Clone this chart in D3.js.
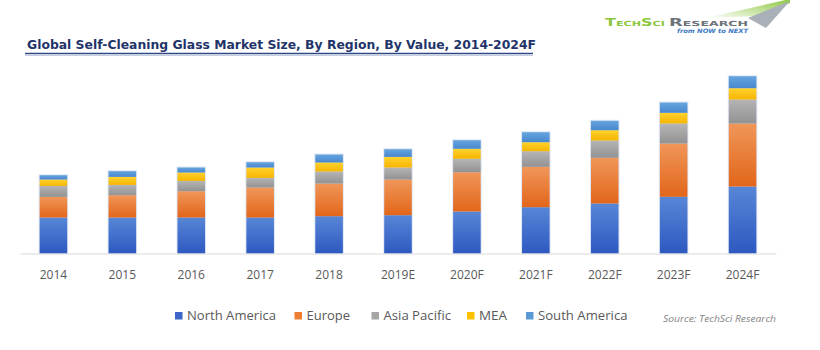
<!DOCTYPE html>
<html>
<head>
<meta charset="utf-8">
<script src="https://cdn.jsdelivr.net/npm/d3@7/dist/d3.min.js"></script>
<style>
  html, body { margin: 0; padding: 0; background: #ffffff; }
  svg { display: block; }
</style>
</head>
<body>
<svg id="chart" width="820" height="350"></svg>
<script>
// ---------- DATA ----------
const categories = ["2014", "2015", "2016", "2017", "2018", "2019E", "2020F", "2021F", "2022F", "2023F", "2024F"];
const seriesNames = ["North America", "Europe", "Asia Pacific", "MEA", "South America"];
const northAmerica = [36, 36, 36, 36, 37.3, 38.3, 42, 46.3, 50, 56.7, 67];
const europe       = [20.6, 22.3, 26.3, 30, 32.7, 35.7, 39.3, 40.4, 45.7, 53.3, 63];
const asiaPacific  = [11, 10.3, 10.3, 9.6, 12, 12, 13.4, 15.6, 17.3, 20, 24];
const mea          = [6.4, 8, 8.4, 10.4, 9, 10.6, 10, 9, 10.3, 10.7, 11.3];
const southAmerica = [4.3, 5.7, 5, 5.3, 8, 7.7, 8.6, 10, 9.4, 10.3, 12];
const titleText = "Global Self-Cleaning Glass Market Size, By Region, By Value, 2014-2024F";
const sourceText = "Source: TechSci Research";

// ---------- BUILD TABLE ----------
const valuesBySeries = [northAmerica, europe, asiaPacific, mea, southAmerica];
const keys = seriesNames;
const table = categories.map((c, i) => {
  const row = { category: c };
  keys.forEach((k, j) => row[k] = valuesBySeries[j][i]);
  return row;
});

// ---------- STYLE ----------
const gradStops = {
  "North America": ["#5886d6", "#2d59c1"],
  "Europe":        ["#f09659", "#e2661a"],
  "Asia Pacific":  ["#b5b5b5", "#929292"],
  "MEA":           ["#ffd22e", "#f7b500"],
  "South America": ["#67a5de", "#4787ce"]
};
const legendColors = {
  "North America": "#3b66c8",
  "Europe":        "#ed7d31",
  "Asia Pacific":  "#a5a5a5",
  "MEA":           "#ffc000",
  "South America": "#5b9bd5"
};

const svg = d3.select("#chart");
const defs = svg.append("defs");
keys.forEach((k, i) => {
  const g = defs.append("linearGradient")
    .attr("id", "grad" + i)
    .attr("x1", 0).attr("y1", 0).attr("x2", 0).attr("y2", 1);
  g.append("stop").attr("offset", "0%").attr("stop-color", gradStops[k][0]);
  g.append("stop").attr("offset", "100%").attr("stop-color", gradStops[k][1]);
});
const logoGrad = defs.append("linearGradient").attr("id", "logoGreen")
  .attr("x1", 0).attr("y1", 1).attr("x2", 1).attr("y2", 0);
logoGrad.append("stop").attr("offset", "0%").attr("stop-color", "#ffffff");
logoGrad.append("stop").attr("offset", "100%").attr("stop-color", "#8cc63e");

// ---------- SCALES ----------
const x = d3.scaleBand()
  .domain(categories)
  .range([20, 776])
  .paddingInner(0.6)
  .paddingOuter(0.285);

const y = d3.scaleLinear()
  .domain([0, 200])
  .range([253.5, 53.5]);

const stack = d3.stack().keys(keys);
const stacked = stack(table);

// light halo behind bars
svg.append("g")
  .selectAll("rect")
  .data(table)
  .join("rect")
  .attr("x", d => x(d.category) - 1)
  .attr("width", x.bandwidth() + 2)
  .attr("y", d => y(d3.sum(keys, k => d[k])) - 1)
  .attr("height", d => y(0) - y(d3.sum(keys, k => d[k])) + 1)
  .attr("fill", "#dfe7f5");

// bars
svg.append("g")
  .selectAll("g")
  .data(stacked)
  .join("g")
  .attr("fill", (s, i) => "url(#grad" + i + ")")
  .selectAll("rect")
  .data(s => s)
  .join("rect")
  .attr("x", d => x(d.data.category))
  .attr("width", x.bandwidth())
  .attr("y", d => y(d[1]))
  .attr("height", d => y(d[0]) - y(d[1]));

// axis
const axis = svg.append("g")
  .attr("transform", `translate(0,${y(0)})`)
  .call(d3.axisBottom(x).tickSize(0).tickSizeOuter(0).tickPadding(16.5));
axis.select(".domain").attr("stroke", "#d9d9d9").attr("stroke-width", 1);
axis.selectAll("text")
  .attr("fill", "#595959")
  .style("font-family", "'Open Sans', 'Noto Sans', sans-serif")
  .style("font-size", "12px");

// ---------- TITLE ----------
svg.append("text")
  .attr("x", 27).attr("y", 48.5)
  .attr("textLength", 509)
  .attr("lengthAdjust", "spacingAndGlyphs")
  .attr("fill", "#1f3468")
  .style("font-family", "'DejaVu Sans Condensed', 'DejaVu Sans', sans-serif")
  .style("font-weight", "bold")
  .style("font-size", "13px")
  .text(titleText);
svg.append("line")
  .attr("x1", 25).attr("x2", 533).attr("y1", 53.5).attr("y2", 53.5)
  .attr("stroke", "#2f4785").attr("stroke-width", 1.6);
svg.append("line")
  .attr("x1", 25).attr("x2", 533).attr("y1", 55.5).attr("y2", 55.5)
  .attr("stroke", "#c5cde0").attr("stroke-width", 1);

// ---------- LOGO ----------
const logo = svg.append("g");
logo.append("polygon")
  .attr("points", "706,18 790,-1 790,3 760,16")
  .attr("fill", "url(#logoGreen)");
logo.append("polygon")
  .attr("points", "748,18 790,1 766,28")
  .attr("fill", "#a9b0b8");
logo.append("text")
  .attr("x", 605).attr("y", 26)
  .attr("textLength", 60).attr("lengthAdjust", "spacingAndGlyphs")
  .attr("fill", "#8cc63e")
  .style("font-family", "'DejaVu Sans', sans-serif")
  .style("font-weight", "bold")
  .style("font-variant", "small-caps")
  .style("font-size", "10px")
  .text("TechSci");
logo.append("text")
  .attr("x", 669).attr("y", 26)
  .attr("textLength", 79).attr("lengthAdjust", "spacingAndGlyphs")
  .attr("fill", "#6d7278")
  .style("font-family", "'DejaVu Sans', sans-serif")
  .style("font-weight", "bold")
  .style("font-variant", "small-caps")
  .style("font-size", "10px")
  .text("Research");
logo.append("text")
  .attr("x", 677).attr("y", 32.5)
  .attr("textLength", 71).attr("lengthAdjust", "spacingAndGlyphs")
  .attr("fill", "#3a78c3")
  .style("font-family", "'DejaVu Sans', sans-serif")
  .style("font-weight", "bold")
  .style("font-style", "italic")
  .style("font-size", "6px")
  .text("from NOW to NEXT");

// ---------- LEGEND ----------
const legendX = [175, 294.5, 371.5, 467, 526];
const legendW = [89, 43.5, 67.5, 28, 89.5];
const legend = svg.append("g");
seriesNames.forEach((k, i) => {
  legend.append("rect")
    .attr("x", legendX[i]).attr("y", 312)
    .attr("width", 7.5).attr("height", 7.5)
    .attr("fill", legendColors[k]);
  legend.append("text")
    .attr("x", legendX[i] + 12).attr("y", 320)
    .attr("textLength", legendW[i]).attr("lengthAdjust", "spacingAndGlyphs")
    .attr("fill", "#595959")
    .style("font-family", "'Open Sans', 'Noto Sans', sans-serif")
    .style("font-size", "12.5px")
    .text(k);
});

// source
svg.append("text")
  .attr("x", 663).attr("y", 322)
  .attr("textLength", 113).attr("lengthAdjust", "spacingAndGlyphs")
  .attr("fill", "#7f7f7f")
  .style("font-family", "'Open Sans', 'Noto Sans', sans-serif")
  .style("font-style", "italic")
  .style("font-size", "9px")
  .text(sourceText);
</script>
</body>
</html>
